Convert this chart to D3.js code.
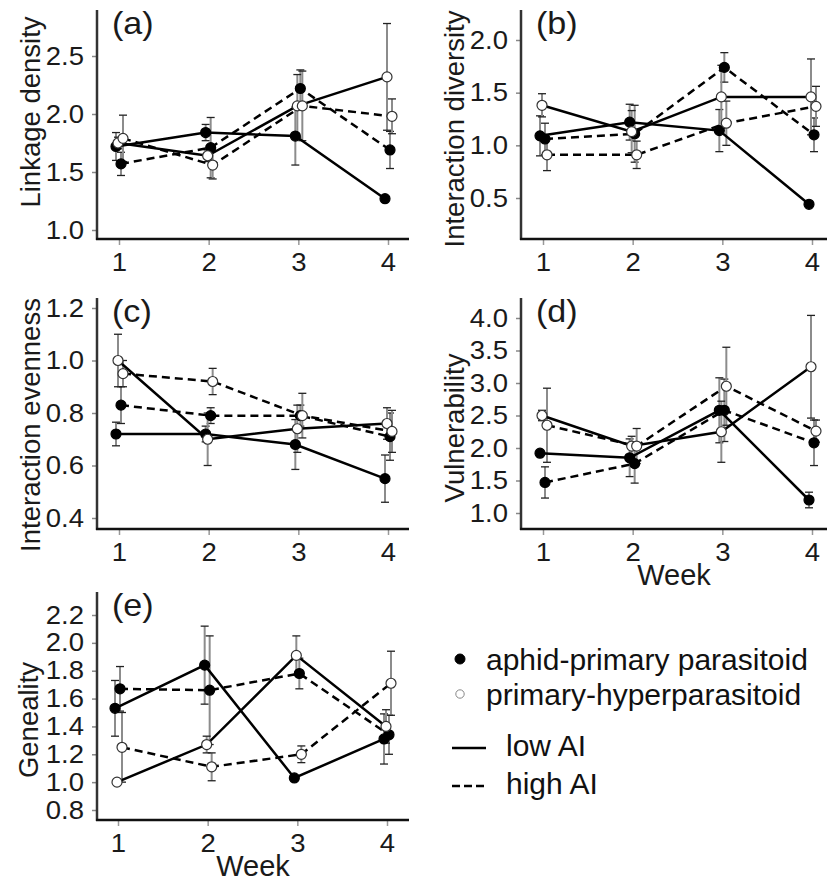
<!DOCTYPE html>
<html><head><meta charset="utf-8">
<script src="https://cdn.jsdelivr.net/npm/d3@7"></script>
<style>
body{margin:0;background:#fff}
svg{display:block}
text{font-family:"Liberation Sans",Arial,Helvetica,sans-serif}
</style>
</head><body>
<svg id="chart" width="827" height="881"></svg>
<script>
// ---------------- DATA ----------------
const weeks = [1, 2, 3, 4];
// series order: aphid-primary low AI, aphid-primary high AI, primary-hyper low AI, primary-hyper high AI
const seriesNames = ["apLow", "apHigh", "phLow", "phHigh"];
const seriesFilled = [true, true, false, false];
const seriesDashed = [false, true, false, true];

const linkageDensity    = [[1.72, 1.84, 1.81, 1.27], [1.57, 1.71, 2.22, 1.69], [1.75, 1.64, 2.07, 2.32], [1.79, 1.56, 2.07, 1.98]];
const linkageDensityErr = [[0.12, 0.07, 0.25, 0.01], [0.10, 0.26, 0.16, 0.16], [0.05, 0.05, 0.27, 0.46], [0.20, 0.12, 0.30, 0.15]];

const interactionDiversity    = [[1.09, 1.22, 1.14, 0.44], [1.06, 1.11, 1.74, 1.10], [1.38, 1.13, 1.46, 1.46], [0.91, 0.91, 1.21, 1.37]];
const interactionDiversityErr = [[0.19, 0.17, 0.20, 0.01], [0.15, 0.27, 0.14, 0.16], [0.11, 0.20, 0.30, 0.36], [0.15, 0.13, 0.21, 0.19]];

const interactionEvenness    = [[0.72, 0.72, 0.68, 0.55], [0.83, 0.79, 0.79, 0.71], [1.00, 0.70, 0.74, 0.76], [0.95, 0.92, 0.79, 0.73]];
const interactionEvennessErr = [[0.045, 0.03, 0.095, 0.09], [0.07, 0.03, 0.04, 0.09], [0.10, 0.10, 0.09, 0.06], [0.05, 0.05, 0.085, 0.08]];

const vulnerability    = [[1.92, 1.85, 2.58, 1.20], [1.47, 1.76, 2.58, 2.08], [2.50, 2.03, 2.25, 3.25], [2.35, 2.03, 2.95, 2.26]];
const vulnerabilityErr = [[0.03, 0.29, 0.50, 0.12], [0.24, 0.30, 0.48, 0.35], [0.08, 0.15, 0.47, 0.79], [0.57, 0.27, 0.60, 0.17]];

const geneality    = [[1.53, 1.84, 1.03, 1.31], [1.67, 1.66, 1.78, 1.34], [1.00, 1.27, 1.91, 1.40], [1.25, 1.11, 1.20, 1.71]];
const genealityErr = [[0.20, 0.28, 0.01, 0.18], [0.16, 0.39, 0.11, 0.14], [0.01, 0.06, 0.14, 0.12], [0.25, 0.10, 0.06, 0.23]];

const ticksA = [1.0, 1.5, 2.0, 2.5];
const ticksB = [0.5, 1.0, 1.5, 2.0];
const ticksC = [0.4, 0.6, 0.8, 1.0, 1.2];
const ticksD = [1.0, 1.5, 2.0, 2.5, 3.0, 3.5, 4.0];
const ticksE = [0.8, 1.0, 1.2, 1.4, 1.6, 1.8, 2.0, 2.2];

const legendPointLabels = ["aphid-primary parasitoid", "primary-hyperparasitoid"];
const legendLineLabels = ["low AI", "high AI"];

// ---------------- LAYOUT ----------------
const panels = [
  {tag:"(a)", ylab:"Linkage density", mean:linkageDensity, err:linkageDensityErr, ticks:ticksA,
   ax:97, right:409, top:10, bottom:239, xr:[119,388], yd:[1.0,2.5], yr:[230,56], ylx:30, yly:112, week:false},
  {tag:"(b)", ylab:"Interaction diversity", mean:interactionDiversity, err:interactionDiversityErr, ticks:ticksB,
   ax:521, right:827, top:10, bottom:239, xr:[543,812], yd:[0.5,2.0], yr:[198,40], ylx:454, yly:129, week:false},
  {tag:"(c)", ylab:"Interaction evenness", mean:interactionEvenness, err:interactionEvennessErr, ticks:ticksC,
   ax:97, right:409, top:298, bottom:529, xr:[119,388], yd:[0.4,1.2], yr:[518,308], ylx:30, yly:425, week:false},
  {tag:"(d)", ylab:"Vulnerability", mean:vulnerability, err:vulnerabilityErr, ticks:ticksD,
   ax:521, right:827, top:298, bottom:529, xr:[543,812], yd:[1.0,4.0], yr:[513,318], ylx:454, yly:428, week:true},
  {tag:"(e)", ylab:"Geneality", mean:geneality, err:genealityErr, ticks:ticksE,
   ax:97, right:409, top:592, bottom:820, xr:[118,387], yd:[0.8,2.2], yr:[810,615], ylx:28, yly:720, week:true}
];
const dodge = [-3, 2, -1, 4];
const SX = 1.1; // horizontal widening of tick labels to match the reference glyphs

const svg = d3.select("#chart");

panels.forEach(p => {
  const g = svg.append("g");
  const x = d3.scaleLinear().domain([1, 4]).range(p.xr);
  const y = d3.scaleLinear().domain(p.yd).range(p.yr);

  // y axis ticks/labels
  const yAxis = d3.axisLeft(y).tickValues(p.ticks).tickSize(5).tickPadding(8).tickFormat(d3.format(".1f"));
  const gy = g.append("g").attr("transform", `translate(${p.ax},0)`).call(yAxis);
  gy.select(".domain").remove();
  gy.selectAll("line").attr("stroke", "#888").attr("stroke-width", 1.5);
  gy.selectAll("text").attr("font-size", 25).attr("fill", "#1a1a1a")
    .style("font-family", '"Liberation Sans",Arial,sans-serif')
    .each(function() {
      const t = d3.select(this);
      t.attr("x", (+t.attr("x")) / SX).attr("transform", `scale(${SX},1)`);
    });

  // x axis ticks/labels
  const xAxis = d3.axisBottom(x).tickValues(weeks).tickSize(6).tickPadding(8).tickFormat(d3.format("d"));
  const gx = g.append("g").attr("transform", `translate(0,${p.bottom})`).call(xAxis);
  gx.select(".domain").remove();
  gx.selectAll("line").attr("stroke", "#999").attr("stroke-width", 1.5);
  gx.selectAll("text").attr("font-size", 25).attr("fill", "#1a1a1a")
    .style("font-family", '"Liberation Sans",Arial,sans-serif')
    .attr("transform", `scale(${SX},1)`);

  // axis lines
  g.append("line").attr("x1", p.ax).attr("x2", p.ax).attr("y1", p.top).attr("y2", p.bottom + 1)
    .attr("stroke", "#333").attr("stroke-width", 2.5);
  g.append("line").attr("x1", p.ax - 1).attr("x2", p.right).attr("y1", p.bottom).attr("y2", p.bottom)
    .attr("stroke", "#111").attr("stroke-width", 2.5);

  // y label
  g.append("text").attr("transform", `translate(${p.ylx},${p.yly}) rotate(-90)`)
    .attr("text-anchor", "middle").attr("dy", "0.35em").attr("font-size", 27.5).attr("fill", "#1a1a1a")
    .text(p.ylab);

  // panel tag
  g.append("text").attr("transform", `translate(${p.ax + 15},${p.top + 24}) scale(1.1,1)`)
    .attr("font-size", 31).attr("fill", "#1a1a1a").text(p.tag);

  if (p.week) {
    g.append("text").attr("x", (p.ax + p.right) / 2).attr("y", p.bottom + 56).attr("text-anchor", "middle")
      .attr("font-size", 29).attr("fill", "#1a1a1a").text("Week");
  }

  // error bars
  p.mean.forEach((vals, s) => {
    vals.forEach((v, i) => {
      const cx = x(weeks[i]) + dodge[s];
      const e = p.err[s][i];
      g.append("line").attr("x1", cx).attr("x2", cx).attr("y1", y(v - e)).attr("y2", y(v + e))
        .attr("stroke", "#8c8c8c").attr("stroke-width", 2);
      [v - e, v + e].forEach(c => {
        g.append("line").attr("x1", cx - 4).attr("x2", cx + 4).attr("y1", y(c)).attr("y2", y(c))
          .attr("stroke", "#222").attr("stroke-width", 1.3);
      });
    });
  });

  // lines
  p.mean.forEach((vals, s) => {
    const line = d3.line().x((d, i) => x(weeks[i]) + dodge[s]).y(d => y(d));
    g.append("path").attr("d", line(vals)).attr("fill", "none").attr("stroke", "#000")
      .attr("stroke-width", 2.5).attr("stroke-dasharray", seriesDashed[s] ? "8,5" : null);
  });

  // points
  p.mean.forEach((vals, s) => {
    vals.forEach((v, i) => {
      g.append("circle").attr("cx", x(weeks[i]) + dodge[s]).attr("cy", y(v)).attr("r", 5)
        .attr("fill", seriesFilled[s] ? "#000" : "#fff").attr("stroke", seriesFilled[s] ? "#000" : "#333")
        .attr("stroke-width", 1.2);
    });
  });
});

// ---------------- LEGEND ----------------
const lg = svg.append("g");
const legPtY = [659, 694];
legendPointLabels.forEach((t, i) => {
  lg.append("circle").attr("cx", 460).attr("cy", legPtY[i]).attr("r", i === 0 ? 5 : 4.2)
    .attr("fill", i === 0 ? "#000" : "#fff").attr("stroke", i === 0 ? "#000" : "#888").attr("stroke-width", 1);
  lg.append("text").attr("x", 486).attr("y", legPtY[i] + 11).attr("font-size", 30).attr("fill", "#111").text(t);
});
const legLnY = [748, 786];
legendLineLabels.forEach((t, i) => {
  lg.append("line").attr("x1", 452).attr("x2", 486).attr("y1", legLnY[i]).attr("y2", legLnY[i])
    .attr("stroke", "#000").attr("stroke-width", 2.5).attr("stroke-dasharray", i === 1 ? "8,4" : null);
  lg.append("text").attr("x", 506).attr("y", legLnY[i] + 8).attr("font-size", 30).attr("fill", "#111").text(t);
});
</script>
</body></html>
